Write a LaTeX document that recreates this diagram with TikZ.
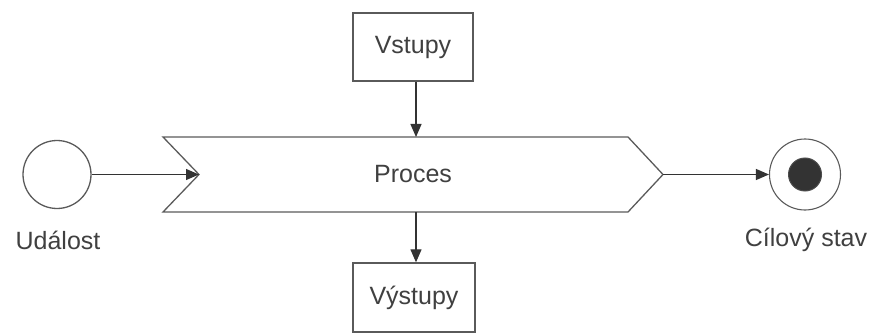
\documentclass[tikz,border=0pt]{standalone}
\usepackage{fontspec}
\setmainfont{Liberation Sans}
\usetikzlibrary{arrows.meta}
\definecolor{linec}{HTML}{5A5A5A}
\definecolor{textc}{HTML}{404040}
\definecolor{dotc}{HTML}{333333}
\tikzset{
  shapeline/.style={draw=linec, line width=1.3pt},
  boxnode/.style={shapeline, fill=white, minimum width=120pt, minimum height=68pt, inner sep=0pt, font=\fontsize{25}{30}\selectfont, text=textc},
  lbl/.style={font=\fontsize{25}{30}\selectfont, text=textc, inner sep=0pt},
  conn/.style={draw=black!80, line width=1.2pt, -{Triangle[length=13pt,width=11pt]}},
}
\begin{document}
\begin{tikzpicture}[x=1pt,y=-1pt]
\useasboundingbox (0,0) rectangle (870,334);
% process chevron
\draw[shapeline] (163,137) -- (628,137) -- (663,174.5) -- (628,212) -- (163,212) -- (199,174.5) -- cycle;
\node[lbl] (proc) at (413,174.5) {Proces};
\coordinate (notch) at (199,174.5);
\coordinate (tip) at (663,174.5);
\coordinate (ptop) at (416,137);
\coordinate (pbot) at (416,212);
% boxes
\node[boxnode] (in) at (413,47) {Vstupy};
\node[boxnode, minimum width=122pt, minimum height=69pt] (out) at (414,297.5) {Výstupy};
% start event
\node[circle, shapeline, minimum size=68pt, inner sep=0pt] (ev) at (57,174.5) {};
\node[lbl] (evl) at (58,240) {Událost};
% goal
\node[circle, shapeline, line width=1.1pt, minimum size=71pt, inner sep=0pt] (goal) at (805,174.5) {};
\node[circle, fill=dotc, draw=black!70, line width=1pt, minimum size=33pt, inner sep=0pt] (goaldot) at (805,174.5) {};
\node[lbl] (goall) at (806,240) {Cílový stav};
% connectors
\draw[conn] (ev.east) -- (notch);
\draw[conn] (tip) -- (goal.west);
\draw[conn] (in.south -| ptop) -- (ptop);
\draw[conn] (pbot) -- (out.north -| pbot);
\end{tikzpicture}
\end{document}
